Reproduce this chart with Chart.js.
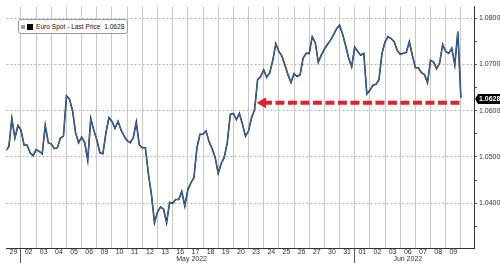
<!DOCTYPE html>
<html>
<head>
<meta charset="utf-8">
<script src="https://cdn.jsdelivr.net/npm/chart.js@4/dist/chart.umd.min.js"></script>
<style>
  html, body { margin: 0; padding: 0; background: #fff; }
  #wrap { position: relative; width: 500px; height: 263px; overflow: hidden; }
  #legend {
    position: absolute; left: 18px; top: 19px; height: 13px; padding: 0 3px 0 2px;
    border: 1px solid #9a9a9a; border-radius: 3px; background: #fff;
    font: 6.6px "Liberation Sans", Arial, sans-serif; color: #111;
    display: flex; align-items: center; white-space: nowrap;
  }
  #legend .g { width: 4px; height: 4px; background: #9a9a9a; margin-right: 2px; }
  #legend .b { width: 6px; height: 6px; background: #000; margin-right: 3px; }
</style>
</head>
<body>
<div id="wrap">
  <canvas id="c" width="500" height="263"></canvas>
  <div id="legend"><span class="g"></span><span class="b"></span><span>Euro Spot - Last Price&nbsp; 1.0628</span></div>
</div>
<script>
// ---- data ----
const DAY_LABELS = ['29','02','03','04','05','06','09','10','11','12','13','16','17','18','19','20',
                    '23','24','25','26','27','30','31','01','02','03','06','07','08','09'];
const MONTH_LABELS = ['May 2022', 'Jun 2022'];
const MONTH_LABEL_POS = [12.25, 26.5];   // in trading-day units
const MONTH_STARTS = [1, 23];            // trading-day index where a month begins
const STEP = 0.2;                        // trading days between samples
const PRICE = [
  1.0514,1.0522,1.0583,1.0541,1.0568,1.0558,1.0526,1.0526,1.0509,1.0503,
  1.0516,1.0512,1.0507,1.0568,1.0531,1.0528,1.0518,1.0520,1.0541,1.0545,
  1.0632,1.0625,1.0600,1.0552,1.0531,1.0543,1.0531,1.0493,1.0583,1.0558,
  1.0537,1.0509,1.0507,1.0552,1.0585,1.0577,1.0562,1.0577,1.0558,1.0545,
  1.0535,1.0531,1.0541,1.0575,1.0526,1.0520,1.0520,1.0463,1.0419,1.0358,
  1.0381,1.0392,1.0387,1.0358,1.0402,1.0400,1.0408,1.0408,1.0425,1.0394,
  1.0429,1.0444,1.0455,1.0520,1.0549,1.0549,1.0556,1.0533,1.0518,1.0499,
  1.0465,1.0486,1.0499,1.0531,1.0592,1.0594,1.0581,1.0594,1.0571,1.0545,
  1.0556,1.0585,1.0602,1.0667,1.0674,1.0688,1.0672,1.0682,1.0709,1.0745,
  1.0728,1.0718,1.0699,1.0678,1.0661,1.0680,1.0674,1.0678,1.0714,1.0724,
  1.0724,1.0760,1.0747,1.0705,1.0720,1.0733,1.0743,1.0752,1.0764,1.0777,
  1.0785,1.0766,1.0741,1.0714,1.0695,1.0737,1.0728,1.0720,1.0724,1.0636,
  1.0644,1.0655,1.0657,1.0667,1.0724,1.0749,1.0760,1.0756,1.0749,1.0731,
  1.0722,1.0724,1.0726,1.0749,1.0720,1.0693,1.0693,1.0682,1.0678,1.0661,
  1.0709,1.0705,1.0691,1.0703,1.0743,1.0728,1.0724,1.0735,1.0699,1.0771,
  1.0628
];
const LAST_PRICE = 1.0628;
const ARROW_LEVEL = 1.0617;
const ARROW_FROM = 16.95;   // arrow head (trading-day units)
const ARROW_TO = 30.08;
const Y_TICKS = [1.035,1.040,1.045,1.050,1.055,1.060,1.065,1.070,1.075,1.080];
const X_MIN = 0.045, X_MAX = 30.865;
const Y_MIN = 1.03032, Y_MAX = 1.08253;

// ---- build ----
const priceData = PRICE.map((v, k) => ({ x: k * STEP, y: v }));
const arrowData = [{ x: ARROW_FROM, y: ARROW_LEVEL }, { x: ARROW_TO, y: ARROW_LEVEL }];

const isMajorY = v => Math.round(v * 1000) % 10 === 0;
const isInt = v => Math.abs(v - Math.round(v)) < 1e-6;

const xTicks = [];
for (let i = 1; i <= 30; i++) xTicks.push({ value: i });
DAY_LABELS.forEach((_, i) => xTicks.push({ value: i + 0.5 }));
xTicks.push({ value: MONTH_LABEL_POS[0] });
xTicks.sort((a, b) => a.value - b.value);

function xLabel(v) {
  const mi = MONTH_LABEL_POS.findIndex(p => Math.abs(p - v) < 1e-6);
  let day = '';
  if (!isInt(v) && Math.abs(v - Math.floor(v) - 0.5) < 1e-6) day = DAY_LABELS[Math.floor(v)] || '';
  if (mi >= 0) return [day, MONTH_LABELS[mi]];
  return day;
}

const priceTag = {
  id: 'priceTag',
  afterDraw(chart) {
    const ctx = chart.ctx, ys = chart.scales.y, ca = chart.chartArea;
    const y = Math.round(ys.getPixelForValue(LAST_PRICE)) + 1;
    const x0 = ca.right + 1;
    ctx.save();
    ctx.fillStyle = '#000';
    ctx.beginPath();
    ctx.moveTo(x0, y);
    ctx.lineTo(x0 + 3, y - 5);
    ctx.lineTo(500, y - 5);
    ctx.lineTo(500, y + 5);
    ctx.lineTo(x0 + 3, y + 5);
    ctx.closePath();
    ctx.fill();
    ctx.fillStyle = '#fff';
    ctx.font = 'bold 7px "Liberation Sans", Arial, sans-serif';
    ctx.textBaseline = 'middle';
    ctx.textAlign = 'left';
    ctx.fillText(LAST_PRICE.toFixed(4), x0 + 4, y + 0.5);
    ctx.restore();
  }
};

const FONT = { family: '"Liberation Sans", Arial, sans-serif', size: 7, lineHeight: 1.0 };

new Chart(document.getElementById('c'), {
  type: 'line',
  data: {
    datasets: [
      { data: arrowData, borderColor: '#e3202b', borderWidth: 4, borderDash: [9, 3.5],
        pointStyle: 'triangle', rotation: 270, pointBackgroundColor: '#e3202b', pointBorderColor: '#e3202b',
        pointRadius: ctx => ctx.dataIndex === 0 ? 5.5 : 0, pointBorderWidth: 1, tension: 0 },
      { data: priceData, borderColor: '#4a7fc8', borderWidth: 0.8, pointRadius: 0, tension: 0 },
      { data: priceData, borderColor: '#14243d', borderWidth: 1.6, pointRadius: 0, tension: 0 }
    ]
  },
  options: {
    responsive: false,
    animation: false,
    devicePixelRatio: 1,
    layout: { padding: 0 },
    plugins: { legend: { display: false }, tooltip: { enabled: false } },
    scales: {
      x: {
        type: 'linear', min: X_MIN, max: X_MAX,
        afterBuildTicks: s => { s.ticks = xTicks.map(t => ({ value: t.value })); },
        afterFit: s => { s.height = 15; },
        grid: {
          color: c => (c.tick && isInt(c.tick.value)) ? '#c8c8c8' : 'rgba(0,0,0,0)',
          tickColor: c => (c.tick && MONTH_STARTS.includes(c.tick.value)) ? '#555' : 'rgba(0,0,0,0)',
          tickLength: 15, lineWidth: 1
        },
        border: { color: '#333', width: 1 },
        ticks: { autoSkip: false, maxRotation: 0, minRotation: 0, padding: -14, color: '#333',
                 font: FONT, callback: v => xLabel(v) }
      },
      y: {
        position: 'right', min: Y_MIN, max: Y_MAX,
        afterBuildTicks: s => { s.ticks = Y_TICKS.map(v => ({ value: v })); },
        afterFit: s => { s.width = 26; },
        grid: {
          color: c => (c.tick && isMajorY(c.tick.value)) ? '#b4b4b4' : 'rgba(0,0,0,0)',
          tickColor: '#555', tickLength: 3, lineWidth: 1
        },
        border: { color: '#333', width: 1, dash: [2, 2] },
        ticks: { padding: 2, color: '#333', font: FONT,
                 callback: v => isMajorY(v) ? v.toFixed(4) : '' }
      }
    }
  },
  plugins: [priceTag]
});
</script>
</body>
</html>
